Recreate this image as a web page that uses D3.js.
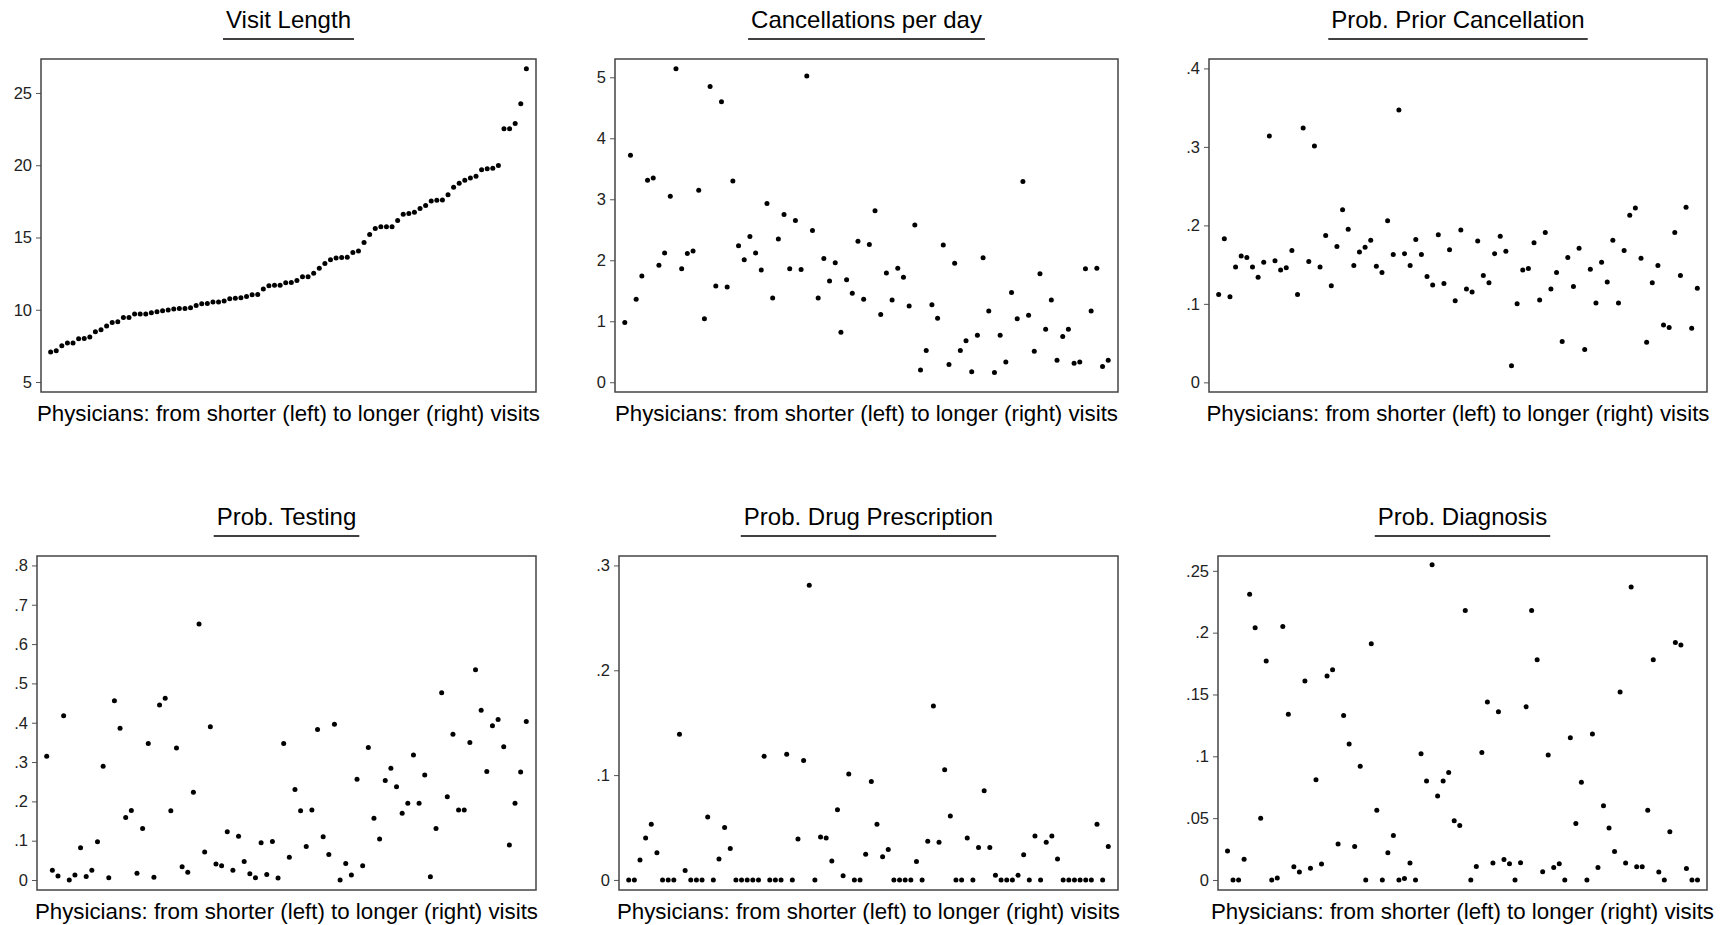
<!DOCTYPE html>
<html>
<head>
<meta charset="utf-8">
<script src="https://cdn.jsdelivr.net/npm/d3@7/dist/d3.min.js"></script>
<style>
  body { margin: 0; background: #fff; }
  svg { font-family: "Liberation Sans", Arial, sans-serif; }
  .tick text { fill: #222; }
  .tick line { stroke: #555; }
</style>
</head>
<body>
<svg id="chart" width="1728" height="925"></svg>
<script>
// one value per physician, physicians ordered by mean visit length
var visitLength = [7.07,7.16,7.51,7.70,7.70,8.00,8.02,8.11,8.48,8.62,
  8.87,9.12,9.17,9.47,9.47,9.70,9.70,9.70,9.79,9.86,
  9.93,9.98,10.05,10.09,10.09,10.14,10.30,10.41,10.44,10.53,
  10.53,10.60,10.76,10.80,10.83,10.92,11.04,11.06,11.43,11.66,
  11.70,11.70,11.87,11.89,12.03,12.28,12.28,12.53,12.88,13.20,
  13.46,13.59,13.62,13.64,13.96,14.06,14.65,15.21,15.62,15.74,
  15.74,15.74,16.18,16.61,16.66,16.75,17.00,17.21,17.53,17.58,
  17.60,17.95,18.48,18.76,18.96,19.12,19.24,19.68,19.75,19.79,
  19.98,22.53,22.53,22.88,24.26,26.68];

var cancellations = [0.98,3.72,1.36,1.74,3.31,3.35,1.92,2.12,3.05,5.14,
  1.86,2.11,2.15,3.15,1.04,4.85,1.58,4.60,1.56,3.30,
  2.24,2.01,2.39,2.12,1.84,2.93,1.38,2.35,2.75,1.86,
  2.65,1.85,5.02,2.49,1.38,2.03,1.66,1.96,0.82,1.68,
  1.46,2.31,1.36,2.26,2.81,1.11,1.79,1.35,1.87,1.72,
  1.25,2.58,0.20,0.52,1.27,1.05,2.25,0.29,1.95,0.52,
  0.68,0.17,0.77,2.04,1.17,0.16,0.77,0.33,1.47,1.04,
  3.29,1.10,0.51,1.78,0.87,1.35,0.36,0.75,0.87,0.31,
  0.33,1.86,1.17,1.87,0.26,0.36];

var priorCancel = [.112,.183,.109,.147,.161,.159,.147,.134,.153,.314,
  .155,.143,.146,.168,.112,.324,.154,.301,.147,.187,
  .123,.173,.220,.195,.149,.166,.172,.181,.148,.140,
  .206,.163,.347,.164,.149,.182,.163,.135,.124,.188,
  .126,.169,.104,.194,.119,.115,.180,.136,.127,.164,
  .186,.167,.021,.100,.143,.145,.178,.105,.191,.119,
  .140,.052,.159,.122,.171,.042,.144,.101,.153,.128,
  .181,.101,.168,.213,.222,.158,.051,.127,.149,.073,
  .070,.191,.136,.223,.069,.120];

var testing = [.315,.025,.010,.418,.000,.013,.082,.009,.025,.097,
  .289,.006,.456,.386,.159,.177,.017,.131,.347,.007,
  .445,.462,.176,.336,.034,.020,.223,.651,.071,.390,
  .041,.036,.123,.025,.111,.047,.016,.006,.095,.014,
  .098,.005,.347,.058,.230,.176,.085,.178,.383,.110,
  .065,.396,.000,.042,.013,.256,.036,.337,.157,.104,
  .253,.284,.237,.170,.195,.318,.195,.267,.008,.131,
  .476,.212,.371,.178,.178,.350,.535,.432,.276,.392,
  .408,.339,.089,.195,.275,.403];

var drugRx = [0,0,.019,.040,.053,.026,0,0,0,.139,
  .009,0,0,0,.060,0,.020,.050,.030,0,
  0,0,0,0,.118,0,0,0,.120,0,
  .039,.114,.281,0,.041,.040,.018,.067,.004,.101,
  0,0,.0245,.094,.053,.022,.029,0,0,0,
  0,.0175,0,.037,.166,.036,.105,.061,0,0,
  .040,0,.031,.085,.031,.0045,0,0,0,.0045,
  .024,0,.042,0,.036,.042,.020,0,0,0,
  0,0,0,.053,0,.032];

var diagnosis = [.0235,0,0,.0167,.231,.204,.050,.177,0,.0016,
  .205,.134,.0108,.0065,.161,.0094,.081,.013,.165,.170,
  .029,.133,.110,.027,.092,0,.191,.0564,0,.022,
  .036,0,.0013,.0138,0,.102,.080,.255,.068,.080,
  .087,.048,.044,.218,0,.011,.103,.144,.0138,.136,
  .0165,.0132,0,.014,.140,.218,.178,.0067,.101,.010,
  .0132,0,.115,.0456,.079,0,.118,.010,.060,.042,
  .023,.152,.0138,.237,.0108,.0108,.0564,.178,.0065,0,
  .039,.192,.190,.0092,0,0];

// y-axis ticks per panel
var visitTicks = [5, 10, 15, 20, 25];
var cancelTicks = [0, 1, 2, 3, 4, 5];
var priorTicks = [0, .1, .2, .3, .4];
var testTicks = [0, .1, .2, .3, .4, .5, .6, .7, .8];
var drugTicks = [0, .1, .2, .3];
var diagTicks = [0, .05, .1, .15, .2, .25];

var xLabel = "Physicians: from shorter (left) to longer (right) visits";

// frame = [left, top, right, bottom] of each plot region
var panels = [
  {title: "Visit Length", values: visitLength, ticks: visitTicks, domain: [4.31, 27.35], frame: [41, 59, 536, 392]},
  {title: "Cancellations per day", values: cancellations, ticks: cancelTicks, domain: [-0.16, 5.30], frame: [615, 59, 1118, 392]},
  {title: "Prob. Prior Cancellation", values: priorCancel, ticks: priorTicks, domain: [-0.0123, 0.412], frame: [1209, 59, 1707, 392]},
  {title: "Prob. Testing", values: testing, ticks: testTicks, domain: [-0.0254, 0.824], frame: [37, 556, 536, 890]},
  {title: "Prob. Drug Prescription", values: drugRx, ticks: drugTicks, domain: [-0.0096, 0.309], frame: [619, 556, 1118, 890]},
  {title: "Prob. Diagnosis", values: diagnosis, ticks: diagTicks, domain: [-0.0081, 0.262], frame: [1218, 556, 1707, 890]}
];

// Stata style labels: drop the leading zero (.05 not 0.05)
function fmt(v) { return String(v).replace(/^0\./, "."); }

var svg = d3.select("#chart");

panels.forEach(function(p) {
  var left = p.frame[0], top = p.frame[1], right = p.frame[2], bottom = p.frame[3];
  var n = p.values.length;

  var xScale = d3.scaleLinear()
      .domain([1 - 1.72, n + 1.72])
      .range([left, right]);
  var yScale = d3.scaleLinear()
      .domain(p.domain)
      .range([bottom, top]);

  var g = svg.append("g");

  // y axis
  var yAxis = d3.axisLeft(yScale)
      .tickValues(p.ticks)
      .tickFormat(fmt)
      .tickSize(5)
      .tickPadding(4);
  g.append("g")
      .attr("transform", "translate(" + left + ",0)")
      .call(yAxis)
      .call(function(a) { a.select(".domain").remove(); })
      .selectAll("text")
      .style("font-size", "16.5px");

  // plot frame
  g.append("rect")
      .attr("x", left)
      .attr("y", top)
      .attr("width", right - left)
      .attr("height", bottom - top)
      .attr("fill", "none")
      .attr("stroke", "#444")
      .attr("stroke-width", 1.5);

  // dots
  g.append("g")
    .selectAll("circle")
    .data(p.values)
    .enter().append("circle")
      .attr("cx", function(d, i) { return xScale(i + 1); })
      .attr("cy", function(d) { return yScale(d); })
      .attr("r", 2.5)
      .attr("fill", "#000");

  var cx = (left + right) / 2;

  // title with underline
  var t = g.append("text")
      .attr("x", cx)
      .attr("y", top - 31)
      .attr("text-anchor", "middle")
      .style("font-size", "24px")
      .attr("fill", "#000")
      .text(p.title);
  var w = t.node().getComputedTextLength();
  g.append("line")
      .attr("x1", cx - w / 2 - 3)
      .attr("x2", cx + w / 2 + 3)
      .attr("y1", top - 20)
      .attr("y2", top - 20)
      .attr("stroke", "#000")
      .attr("stroke-width", 1.3);

  // x axis title
  g.append("text")
      .attr("x", cx)
      .attr("y", bottom + 29)
      .attr("text-anchor", "middle")
      .style("font-size", "22.3px")
      .attr("fill", "#000")
      .text(xLabel);
});
</script>
</body>
</html>
